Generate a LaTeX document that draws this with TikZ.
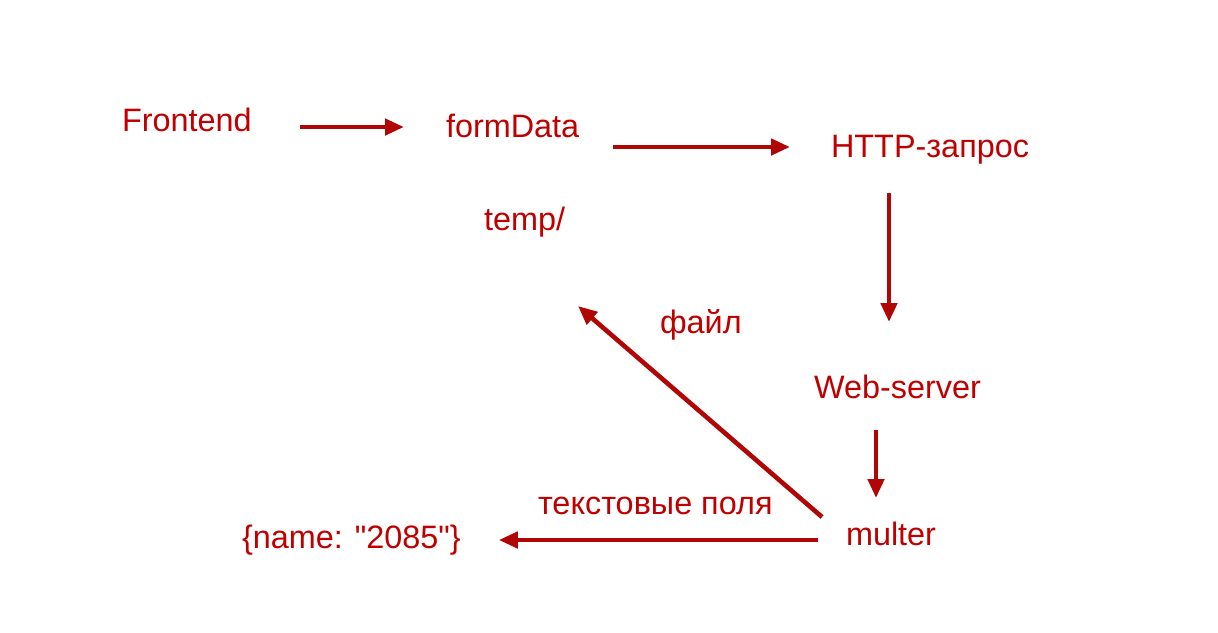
\documentclass[tikz,border=0pt]{standalone}
\usepackage{fontspec}
\setmainfont{Liberation Sans}[Ligatures=TeXOff]
\usetikzlibrary{arrows.meta}
\begin{document}
\begin{tikzpicture}[x=.5pt,y=-.5pt,
  lbl/.style={inner sep=0pt,outer sep=0pt,anchor=base west,text={rgb,255:red,192;green,0;blue,0},font=\fontsize{16.2}{19.4}\selectfont},
  arr/.style={draw={rgb,255:red,176;green,6;blue,6},line width=2.3pt,-{Triangle[length=9.5pt,width=8pt]}}]
\path[use as bounding box] (0,0) rectangle (1218,632);
\path[fill=white,draw=none] (0,0) rectangle (1218,632);
\node[lbl] (frontend) at (122,131) {Frontend};
\node[lbl] (formdata) at (446,137) {formData};
\node[lbl] (http) at (831,157) {HTTP-запрос};
\node[lbl] (temp) at (484,230) {temp/};
\node[lbl] (file) at (660,333) {файл};
\node[lbl] (webserver) at (814,398) {Web-server};
\node[lbl] (fields) at (538,514) {текстовые поля};
\node[lbl] (multer) at (846,545) {multer};
\node[lbl] (result) at (242,548) {\{name: "2085"\}};
\draw[arr] ([shift={(48,-4)}]frontend.base east) -- ([shift={(-42,-10)}]formdata.base west);
\draw[arr] ([shift={(34,10)}]formdata.base east) -- ([shift={(-41,-10)}]http.base west);
\draw[arr] ([shift={(58,36)}]http.base west) -- ([shift={(75,-76)}]webserver.base west);
\draw[arr] ([shift={(62,32)}]webserver.base west) -- ([shift={(30,-47)}]multer.base west);
\draw[arr] ([shift={(-24,-28)}]multer.base west) -- ([shift={(94,76)}]temp.base west);
\draw[arr] ([shift={(-28,-5)}]multer.base west) -- ([shift={(38,-8)}]result.base east);
\end{tikzpicture}
\end{document}
